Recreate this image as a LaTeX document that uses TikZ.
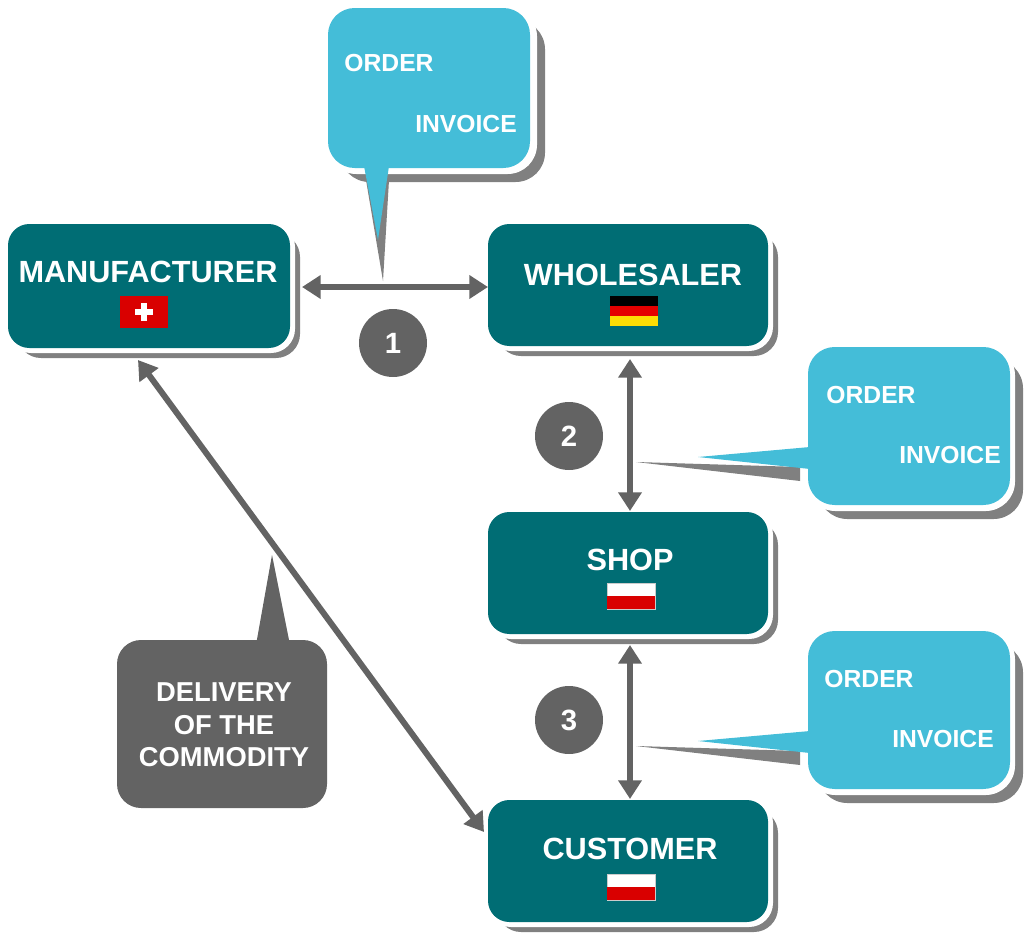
\documentclass[tikz,border=0pt]{standalone}
\usepackage{fontspec}
\setmainfont{Liberation Sans}
\usetikzlibrary{arrows.meta}
\definecolor{teal}{HTML}{006D74}
\definecolor{lblue}{HTML}{44BDD8}
\definecolor{sgray}{HTML}{808080}
\definecolor{dgray}{HTML}{636363}
\begin{document}
\begin{tikzpicture}[x=0.75pt,y=-0.75pt,
  shad/.style={fill=sgray},
  boxw/.style={fill=white},
  lbl/.style={text=white,font=\bfseries\fontsize{23}{26}\selectfont},
  sm/.style={text=white,font=\bfseries\fontsize{18.5}{21}\selectfont},
  arr/.style={draw=dgray,line width=4.5pt,{Triangle[length=14pt,width=17pt]}-{Triangle[length=14pt,width=17pt]}},
  num/.style={circle,fill=dgray,minimum size=51pt,inner sep=0,text=white,font=\bfseries\fontsize{22}{24}\selectfont}]
\useasboundingbox (0,0) rectangle (1024,935);
\newcommand\ebox[5]{%
 \fill[shad,rounded corners=18pt] (#1+9,#2+9) rectangle (#3+10,#4+10);
 \fill[boxw,rounded corners=18pt] (#1-1,#2-1) rectangle (#3+5,#4+5);
 \fill[teal,rounded corners=16pt] (#1,#2) rectangle (#3,#4);}
\ebox{8}{224}{290}{348}{}
\ebox{488}{224}{768}{346}{}
\ebox{488}{512}{768}{634}{}
\ebox{488}{800}{768}{922}{}
\node[lbl] (man) at (148,272) {MANUFACTURER};
\node[lbl] (who) at (633,275) {WHOLESALER};
\node[lbl] (shop) at (630,560) {SHOP};
\node[lbl] (cus) at (630,849) {CUSTOMER};
% flags
\fill[red!85!black] (120,296) rectangle (168,328);
\fill[white] (141,303) rectangle (147,321); \fill[white] (135,309) rectangle (153,315);
\fill[black] (610,296) rectangle (658,306);
\fill[red!90!black] (610,306) rectangle (658,316);
\fill[yellow!80!orange] (610,316) rectangle (658,326);
\foreach \y in {583,874}{\fill[white,draw=gray!40] (607,\y) rectangle (655,\y+26);
 \fill[red!85!black] (607,\y+13) rectangle (655,\y+26);}
% callout top
\fill[shad,rounded corners=22pt] (340,20) rectangle (545,182);
\fill[shad] (366,180) -- (389,180) -- (383,281) -- cycle;
\fill[boxw,rounded corners=22pt] (327,7) rectangle (537,174);
\fill[lblue,rounded corners=20pt] (328,8) rectangle (530,168);
\fill[lblue] (364,166) -- (389,166) -- (378,240) -- cycle;
\node[sm] (o1) at (389,63) {ORDER};
\node[sm] (i1) at (466,124) {INVOICE};
% callouts right
\foreach \yy/\nm in {347/2,631/3}{
 \fill[shad,rounded corners=22pt] (818,\yy+12) rectangle (1023,\yy+172);
 \fill[shad] (800,\yy+120) -- (800,\yy+134) -- (636,\yy+115) -- cycle;
 \fill[boxw,rounded corners=22pt] (806,\yy-1) rectangle (1015,\yy+164);
 \fill[lblue,rounded corners=20pt] (808,\yy) rectangle (1010,\yy+158);
 \fill[lblue] (810,\yy+100) -- (810,\yy+122) -- (698,\yy+110) -- cycle;
}
\node[sm] (o2) at (871,395) {ORDER};
\node[sm] (i2) at (950,455) {INVOICE};
\node[sm] (o3) at (869,679) {ORDER};
\node[sm] (i3) at (943,739) {INVOICE};
% delivery callout
\fill[dgray,rounded corners=18pt] (117,640) rectangle (327,808);
\fill[dgray] (256,645) -- (290,645) -- (272,555) -- cycle;
\node[sm,align=center,font=\bfseries\fontsize{20.5}{24.5}\selectfont] (del) at (224,725) {DELIVERY\\OF THE\\COMMODITY};
% arrows
\coordinate (a1) at (302,287); \coordinate (a2) at (488,287);
\draw[arr] (a1) -- (a2);
\coordinate (b1) at (630,359); \coordinate (b2) at (630,511);
\draw[arr] (b1) -- (b2);
\coordinate (c1) at (630,645); \coordinate (c2) at (630,799);
\draw[arr] (c1) -- (c2);
\coordinate (d1) at (138,360); \coordinate (d2) at (484,832);
\draw[arr] (d1) -- (d2);
\node[num] (n1) at (393,343) {1};
\node[num] (n2) at (569,436) {2};
\node[num] (n3) at (569,720) {3};
\end{tikzpicture}
\end{document}
